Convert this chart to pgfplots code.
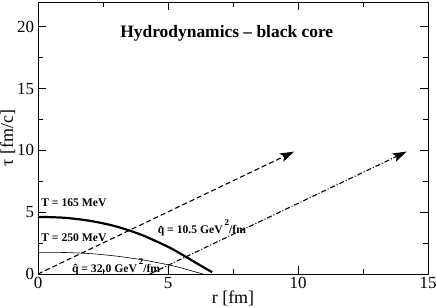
\documentclass[border=0pt]{standalone}
\usepackage{pgfplots}
\pgfplotsset{compat=1.18}
\usepackage{fontspec}
\setmainfont{Liberation Serif}
\usetikzlibrary{arrows.meta}
\begin{document}
\begin{tikzpicture}
\begin{axis}[
  scale only axis, width=390bp, height=272bp,
  xmin=0, xmax=15, ymin=0, ymax=22,
  xtick={0,5,10,15}, ytick={0,5,10,15,20},
  minor x tick num=1, minor y tick num=1,
  tick align=inside, major tick length=8bp, minor tick length=5bp,
  tick style={line width=0.6pt, black},
  axis line style={line width=0.8pt},
  /pgf/number format/assume math mode=true,
  ticklabel style={font=\fontsize{17}{17}\selectfont},
  xticklabel style={yshift=0bp},
  yticklabel style={xshift=-0.5bp},
  xlabel={r [fm]}, ylabel={τ [fm/c]},
  label style={font=\fontsize{18}{18}\selectfont},
  xlabel style={yshift=5bp},
  ylabel style={yshift=-5bp},
  clip=false,
]
\coordinate (SW) at (rel axis cs:0,0);
\coordinate (NE) at (rel axis cs:1,1);
% T = 165 MeV
\addplot[line width=2.2pt, smooth] coordinates {
(0,4.62) (1,4.55) (2,4.3) (3,3.85) (4,3.15) (5,2.2) (5.5,1.62) (6,1.0) (6.4,0.5) (6.7,0.15)};
% T = 250 MeV
\addplot[line width=0.6pt, smooth] coordinates {
(0,1.75) (1,1.74) (2,1.65) (3,1.45) (4,1.15) (5,0.75) (5.5,0.5) (6,0.2) (6.35,0)};
\addplot[line width=1.1pt, dash pattern=on 5bp off 3bp, -{Stealth[length=14bp,width=9bp,inset=3bp]}] coordinates {(0,0) (9.85,9.9)};
\addplot[line width=1.1pt, dash pattern=on 5bp off 2bp on 1bp off 2bp, -{Stealth[length=14bp,width=9bp,inset=3bp]}] coordinates {(4.3,0) (14.18,9.9)};
\node[font=\fontsize{17.5}{17.5}\selectfont\bfseries] at (axis cs:7.26,19.5) {Hydrodynamics -- black core};
\node[font=\fontsize{11.7}{11.7}\selectfont\bfseries, anchor=west, inner sep=0pt] at (axis cs:0.12,5.75) {T = 165 MeV};
\node[font=\fontsize{11.7}{11.7}\selectfont\bfseries, anchor=west, inner sep=0pt] at (axis cs:0.12,2.95) {T = 250 MeV};
\node[font=\fontsize{11.7}{11.7}\selectfont\bfseries, anchor=west, inner sep=0pt] at (axis cs:4.6,3.72) {\^{q} = 10.5 GeV\,\raisebox{1.5ex}{\fontsize{9}{9}\selectfont 2}/fm};
\node[font=\fontsize{11.7}{11.7}\selectfont\bfseries, anchor=west, inner sep=0pt] at (axis cs:1.3,0.62) {\^{q} = 32.0 GeV\,\raisebox{1.5ex}{\fontsize{9}{9}\selectfont 2}/fm};
\end{axis}
\pgfresetboundingbox
\path ([shift={(-38bp,-34bp)}]SW) rectangle ([shift={(8bp,2bp)}]NE);
\end{tikzpicture}
\end{document}
